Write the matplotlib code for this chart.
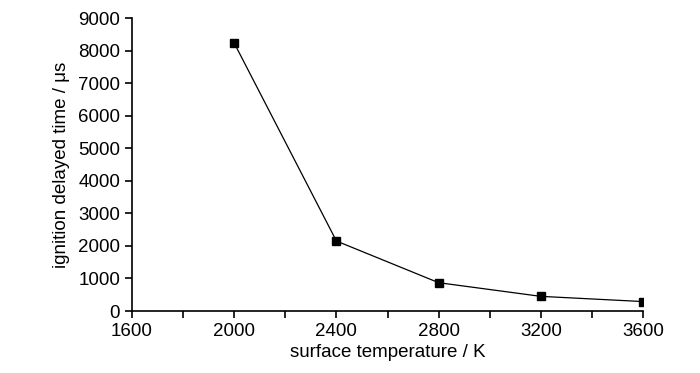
import matplotlib
matplotlib.use("Agg")
import matplotlib.pyplot as plt
from matplotlib.ticker import MultipleLocator

# data
temperature = [2000, 2400, 2800, 3200, 3600]
delay_time = [8230, 2150, 870, 450, 290]

plt.rcParams["font.family"] = ["Liberation Sans", "DejaVu Sans"]

fig = plt.figure(figsize=(7, 3.73), dpi=100)
ax = fig.add_axes([0.1886, 0.1662, 0.73, 0.7855])

ax.plot(temperature, delay_time, color="black", linewidth=0.9,
        marker="s", markersize=6, markerfacecolor="black")

ax.set_xlim(1600, 3600)
ax.set_ylim(0, 9000)
ax.xaxis.set_major_locator(MultipleLocator(400))
ax.xaxis.set_minor_locator(MultipleLocator(200))
ax.yaxis.set_major_locator(MultipleLocator(1000))

for side in ["top", "right"]:
    ax.spines[side].set_visible(False)
for side in ["left", "bottom"]:
    ax.spines[side].set_linewidth(1.2)

ax.tick_params(axis="both", which="both", direction="out", width=1.2, labelsize=13.5)
ax.tick_params(axis="both", which="major", length=5)
ax.tick_params(axis="x", which="minor", length=5)

ax.set_xlabel("surface temperature / K", fontsize=13.5, labelpad=3)
ax.set_ylabel("ignition delayed time / μs", fontsize=13.5, labelpad=6)

fig.savefig("out.png", dpi=100)
